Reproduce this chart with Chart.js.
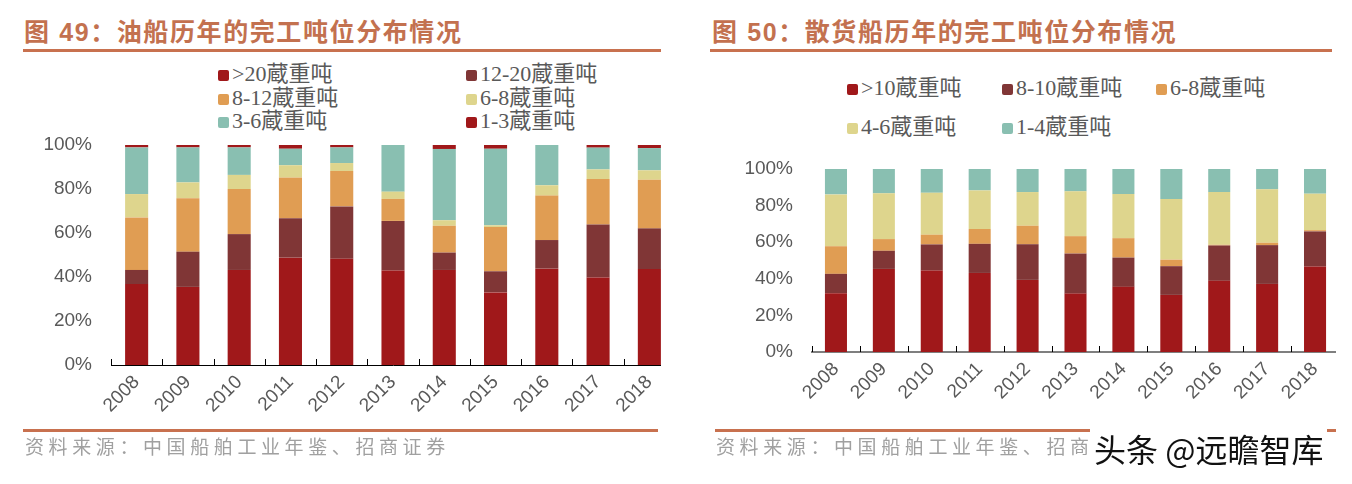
<!DOCTYPE html>
<html>
<head>
<meta charset="utf-8">
<script src="https://cdn.jsdelivr.net/npm/chart.js@4/dist/chart.umd.min.js"></script>
<style>
body { margin: 0; background: #fff; width: 1352px; height: 484px; position: relative; overflow: hidden; font-family: "Liberation Sans", Arial, "Noto Sans CJK SC", sans-serif; }
.title { position: absolute; top: 12px; line-height: 26px; font: bold 25px "Liberation Sans", "Noto Sans CJK SC", sans-serif; color: #c3714f; letter-spacing: 1.6px; white-space: nowrap; }
.rule { position: absolute; height: 3px; background: #c8714f; }
.legend .item { position: absolute; height: 24px; line-height: 24px; white-space: nowrap; font: 22px "Liberation Serif", "Noto Sans CJK SC", serif; color: #595959; }
.legend .item i { display: inline-block; width: 11px; height: 11px; border-radius: 2px; margin-right: 3px; vertical-align: 0px; }
.wrap { position: absolute; overflow: hidden; }
.src { position: absolute; top: 432px; line-height: 22px; font: 19px "Noto Sans CJK SC", sans-serif; color: #a0a0a0; letter-spacing: 4.6px; white-space: nowrap; }
.mark { position: absolute; left: 1090px; top: 425px; line-height: 36px; font: 32px "Noto Sans CJK SC", sans-serif; color: #111; background: #fff; padding: 0 4px; white-space: nowrap; }
</style>
</head>
<body>

<div class="title" style="left:24px">图 49：油船历年的完工吨位分布情况</div>
<div class="rule" style="left:23px; top:49px; width:638px"></div>
<div class="legend" id="legend-oil"></div>
<div class="wrap" style="left:0; top:130px; width:661px; height:300px">
	<canvas id="chart-oil" width="680" height="300"></canvas>
</div>
<div class="rule" style="left:23px; top:429px; width:635px"></div>
<div class="src" style="left:25px">资料来源：中国船舶工业年鉴、招商证券</div>

<div class="title" style="left:712px">图 50：散货船历年的完工吨位分布情况</div>
<div class="rule" style="left:710px; top:49px; width:622px"></div>
<div class="legend" id="legend-bulk"></div>
<div class="wrap" style="left:690px; top:150px; width:646px; height:280px">
	<canvas id="chart-bulk" width="650" height="280"></canvas>
</div>
<div class="rule" style="left:715px; top:429px; width:621px"></div>
<div class="src" style="left:716px">资料来源：中国船舶工业年鉴、招商证券</div>
<div class="mark">头条 @远瞻智库</div>

<script>
// categories
var years = ['2008', '2009', '2010', '2011', '2012', '2013', '2014', '2015', '2016', '2017', '2018']

// colours
var red = '#a0181a'
var maroon = '#803636'
var orange = '#e09d53'
var khaki = '#ded58d'
var teal = '#89bfb1'

// oil tankers (%)
var oilLabels = ['>20蔵重吨', '12-20蔵重吨', '8-12蔵重吨', '6-8蔵重吨', '3-6蔵重吨', '1-3蔵重吨']
var oilOver20 = [36.8, 35.5, 43.2, 48.8, 48.3, 43.0, 43.2, 33.0, 43.8, 39.8, 43.6]
var oil12to20 = [6.4, 16.0, 16.3, 17.9, 23.8, 22.5, 7.9, 9.6, 13.0, 24.1, 18.5]
var oil8to12 = [23.9, 24.3, 20.5, 18.5, 16.1, 10.0, 12.2, 20.1, 20.2, 20.6, 22.1]
var oil6to8 = [10.6, 7.2, 6.4, 5.6, 3.6, 3.3, 2.5, 0.8, 4.7, 4.4, 4.3]
var oil3to6 = [21.2, 15.9, 12.5, 7.5, 7.1, 21.2, 32.4, 34.8, 18.3, 9.9, 10.1]
var oil1to3 = [1.1, 1.1, 1.1, 1.7, 1.1, 0, 1.8, 1.7, 0, 1.2, 1.4]

// bulk carriers (%)
var bulkLabels = ['>10蔵重吨', '8-10蔵重吨', '6-8蔵重吨', '4-6蔵重吨', '1-4蔵重吨']
var bulkOver10 = [32.1, 45.4, 44.5, 43.2, 39.4, 31.9, 35.6, 31.2, 38.9, 37.2, 46.7]
var bulk8to10 = [10.6, 9.9, 14.3, 15.9, 19.5, 21.9, 16.0, 15.7, 19.3, 21.2, 19.2]
var bulk6to8 = [15.1, 6.4, 5.3, 8.1, 10.1, 9.5, 10.6, 3.6, 0.4, 1.3, 0.7]
var bulk4to6 = [28.3, 25.0, 22.9, 21.1, 18.4, 24.5, 24.1, 33.1, 28.8, 29.2, 19.9]
var bulk1to4 = [13.9, 13.3, 13.0, 11.7, 12.6, 12.2, 13.7, 16.4, 12.6, 11.1, 13.5]

var yTicks = [0, 20, 40, 60, 80, 100]

// short tick marks standing on the x axis between categories
var tickMarks = {
	id: 'tickMarks',
	afterDraw: function (chart) {
		var x = chart.scales.x
		var ctx = chart.ctx
		var step = x.getPixelForValue(1) - x.getPixelForValue(0)
		ctx.save()
		ctx.strokeStyle = '#000'
		ctx.lineWidth = 1
		for (var i = 0; i <= chart.data.labels.length; i++) {
			var px = Math.round(x.getPixelForValue(i) - step / 2) + 0.5
			ctx.beginPath()
			ctx.moveTo(px, x.top)
			ctx.lineTo(px, x.top - 6)
			ctx.stroke()
		}
		ctx.restore()
	}
}

function buildLegend (el, labels, colors, cols, rows) {
	var html = ''
	labels.forEach(function (label, i) {
		var left = cols[i % cols.length]
		var top = rows[Math.floor(i / cols.length)]
		var text = label.replace(/&/g, '&amp;').replace(/</g, '&lt;').replace(/>/g, '&gt;')
		html += '<div class="item" style="left:' + left + 'px;top:' + (top - 18) + 'px"><i style="background:' + colors[i] + '"></i>' + text + '</div>'
	})
	document.getElementById(el).innerHTML = html
}

function makeChart (id, datasets, opts) {
	var ctx = document.getElementById(id).getContext('2d')
	return new Chart(ctx, {
		type: 'bar',
		data: { labels: years, datasets: datasets },
		plugins: [tickMarks],
		options: {
			responsive: false,
			animation: false,
			devicePixelRatio: 1,
			layout: { padding: { top: opts.padTop, right: opts.padRight, left: 0, bottom: 0 } },
			plugins: { legend: { display: false }, tooltip: { enabled: false } },
			datasets: { bar: { categoryPercentage: 1, barPercentage: opts.barPct, borderWidth: 0 } },
			scales: {
				x: {
					stacked: true,
					afterFit: function (s) { s.height = opts.xHeight; s.paddingLeft = 0; s.paddingRight = 0 },
					grid: { display: false, drawTicks: false },
					border: { display: true, color: opts.axisColor, width: opts.axisWidth },
					ticks: {
						autoSkip: false, minRotation: 45, maxRotation: 45, padding: 6,
						color: '#595959', font: { family: 'Liberation Sans', size: 19 }
					}
				},
				y: {
					stacked: true, min: 0, max: 100,
					afterFit: function (s) { s.width = opts.yWidth; s.paddingTop = 0; s.paddingBottom = 0 },
					afterBuildTicks: function (s) { s.ticks = yTicks.map(function (v) { return { value: v } }) },
					grid: { display: false, drawTicks: false },
					border: { display: false },
					ticks: {
						padding: 19, color: '#595959', font: { family: 'Liberation Sans', size: 19 },
						callback: function (v) { return v + '%' }
					}
				}
			}
		}
	})
}

// oil tanker chart
var oilColors = [red, maroon, orange, khaki, teal, red]
var oilSeries = [oilOver20, oil12to20, oil8to12, oil6to8, oil3to6, oil1to3]
buildLegend('legend-oil', oilLabels, oilColors, [218, 466], [73, 97, 120])
makeChart('chart-oil', oilSeries.map(function (d, i) {
	return { label: oilLabels[i], data: d, backgroundColor: oilColors[i] }
}), { padTop: 15, padRight: 5, xHeight: 65, yWidth: 111, barPct: 0.45, axisColor: '#000', axisWidth: 1 })

// bulk carrier chart
var bulkColors = [red, maroon, orange, khaki, teal]
var bulkSeries = [bulkOver10, bulk8to10, bulk6to8, bulk4to6, bulk1to4]
buildLegend('legend-bulk', bulkLabels, bulkColors, [847, 1002, 1156], [87, 126])
makeChart('chart-bulk', bulkSeries.map(function (d, i) {
	return { label: bulkLabels[i], data: d, backgroundColor: bulkColors[i] }
}), { padTop: 19, padRight: 1, xHeight: 78, yWidth: 122, barPct: 0.46, axisColor: '#7f7f7f', axisWidth: 2 })
</script>
</body>
</html>
